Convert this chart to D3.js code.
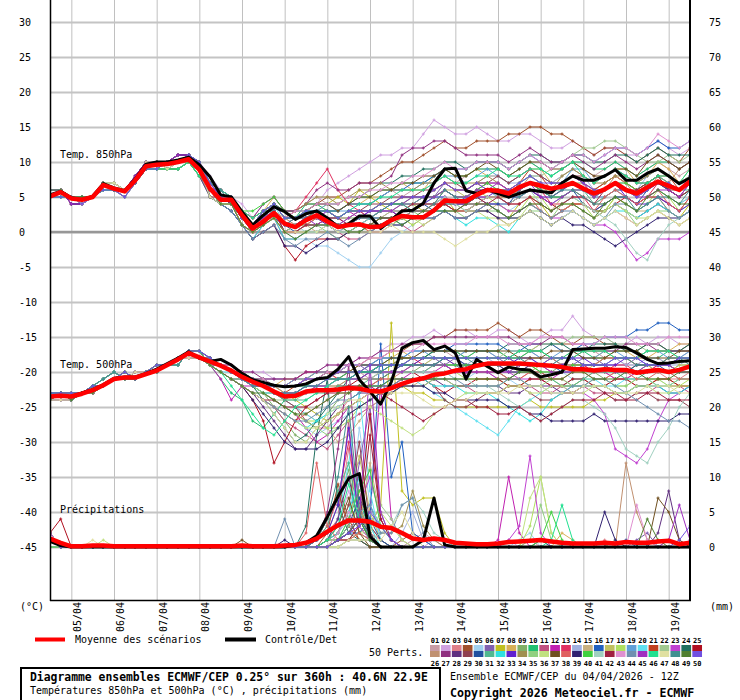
<!DOCTYPE html>
<html><head><meta charset="utf-8">
<script src="https://cdn.jsdelivr.net/npm/d3@7"></script>
<style>body{margin:0;background:#fff}svg{display:block}</style>
</head><body>
<svg id="chart" width="740" height="700"></svg>
<script>
// ---------- DATA ----------
const dayLabels = ["05/04","06/04","07/04","08/04","09/04","10/04","11/04","12/04","13/04","14/04","15/04","16/04","17/04","18/04","19/04"];
const tempTicks = [-45,-40,-35,-30,-25,-20,-15,-10,-5,0,5,10,15,20,25,30];
const precipTicks = [0,5,10,15,20,25,30,35,40,45,50,55,60,65,70,75];
const memberLabels = ["01","02","03","04","05","06","07","08","09","10","11","12","13","14","15","16","17","18","19","20","21","22","23","24","25","26","27","28","29","30","31","32","33","34","35","36","37","38","39","40","41","42","43","44","45","46","47","48","49","50"];
const memberColors = ["#c89ca6","#d0a0e0","#e07f88","#a0502c","#a0d0f0","#8060b0","#c0c020","#d8b058","#80b068","#20c070","#c05080","#c020b0","#e03060","#a0b0e0","#c8b080","#2060c0","#c0c060","#b0e060","#60a0d8","#60e0f0","#c04020","#a0c890","#c040d0","#207060","#b01020","#c09070","#903080","#603080","#904050","#2050a0","#50b890","#30e0e0","#6020d0","#a09050","#90d080","#c0e080","#705020","#e06060","#302070","#40d040","#a0d0c0","#a02040","#e090d0","#7090b0","#a030c0","#20e090","#e0e0a0","#409090","#508030","#7050e0"];

// 6-hourly, 04/04 12Z .. 19/04 12Z (61 steps)
const mean850 = [5.1,5.7,4.8,4.6,5.0,6.7,6.2,5.8,7.4,9.4,9.6,9.7,10.0,10.4,8.9,6.2,4.6,4.6,2.4,0.5,1.5,2.7,1.2,0.7,1.7,2.4,1.5,0.7,1.0,1.1,0.7,0.8,1.7,2.3,2.1,2.1,3.1,4.5,4.4,4.4,5.3,6.0,5.9,5.5,6.4,7.0,6.6,6.2,6.5,7.0,6.2,5.5,6.1,7.0,6.0,5.5,6.4,7.2,6.6,6.0,7.2];
const ctrl850 = [5.3,5.8,4.9,4.6,5.1,6.9,6.3,5.9,7.6,9.7,10.0,10.0,10.3,10.7,9.6,7.9,5.3,5.0,2.9,1.0,2.4,3.6,2.9,1.8,2.6,3.0,2.0,0.7,1.2,2.3,2.3,0.5,1.7,3.0,3.1,4.1,7.0,9.0,9.1,5.9,5.5,6.1,5.5,5.0,5.5,6.0,5.8,5.6,7.0,8.0,7.4,7.4,8.0,8.9,7.4,7.4,8.4,9.0,8.0,6.9,7.7];
const mean500 = [-23.5,-23.4,-23.5,-23.1,-22.6,-21.9,-21.0,-20.8,-20.8,-20.3,-19.8,-19.0,-18.2,-17.3,-17.9,-18.5,-19.1,-19.8,-20.7,-21.4,-22.0,-22.8,-23.5,-23.4,-22.8,-22.6,-22.6,-22.5,-22.3,-22.4,-22.7,-22.8,-22.3,-21.7,-21.2,-20.9,-20.4,-20.2,-19.8,-19.6,-19.1,-18.8,-18.8,-18.8,-18.8,-18.9,-19.0,-19.1,-19.3,-19.6,-19.6,-19.8,-19.6,-19.7,-19.7,-20.1,-19.9,-19.7,-20.0,-19.7,-19.2];
const ctrl500 = [-23.5,-23.4,-23.5,-23.0,-22.5,-21.8,-20.9,-20.7,-20.7,-20.2,-19.6,-18.8,-18.0,-17.1,-18.0,-18.5,-18.2,-19.0,-20.2,-21.1,-21.5,-21.9,-22.1,-22.0,-21.7,-21.0,-20.8,-19.6,-17.8,-21.1,-22.8,-24.6,-21.4,-16.6,-15.8,-15.5,-16.8,-16.3,-17.3,-21.0,-18.2,-19.2,-20.1,-19.3,-19.6,-19.7,-20.7,-20.4,-20.0,-16.8,-16.7,-16.6,-16.6,-16.4,-16.5,-17.3,-18.2,-18.8,-18.7,-18.5,-18.4];
const meanPrecip = [1.2,0.6,0.1,0.1,0.2,0.2,0.1,0.1,0.1,0.1,0.1,0.1,0.1,0.1,0.1,0.1,0.1,0.1,0.2,0.1,0.1,0.1,0.2,0.3,0.6,1.2,2.2,3.1,3.8,3.8,3.6,2.9,2.7,2.0,1.2,1.0,1.2,1.0,0.6,0.5,0.4,0.4,0.5,0.7,0.8,0.9,1.0,0.8,0.6,0.5,0.5,0.5,0.6,0.5,0.7,0.6,0.6,0.8,0.9,0.4,0.6];
const ctrlPrecip = [0.8,0.2,0,0,0,0,0,0,0,0,0,0,0,0,0,0,0,0,0,0,0,0,0,0.3,0.6,1.6,4.3,7.2,9.8,10.5,1.5,0,0,0,0,1.0,7.0,0.3,0,0,0,0,0,0,0,0,0,0,0,0,0,0,0,0,0,0,0,0,0,0,0];

const pert850 = [
[5,6,5,5,5,7,6,6,7,9,10,10,10,10,9,7,5,4,3,1,3,4,2,3,4,5,4,3,4,4,4,5,6,5,6,6,7,8,7,8,9,9,9,8,9,10,9,8,9,10,9,8,9,10,9,8,9,10,9,8,9],
[5,5,5,4,5,6,6,5,7,9,9,10,10,11,10,8,6,5,4,2,4,5,3,2,3,4,6,7,8,9,10,11,11,12,12,14,16,15,14,14,15,14,13,13,14,14,13,12,12,13,12,11,12,12,11,11,12,13,12,11,12],
[5,6,4,4,5,7,6,6,8,10,10,10,11,11,9,6,4,4,1,0,1,3,0,0,1,1,1,0,0,1,1,2,3,2,3,3,4,5,4,4,5,5,5,4,5,6,5,4,5,6,5,4,5,6,5,4,5,6,5,4,5],
[6,6,5,5,5,7,6,6,7,9,10,10,10,11,10,7,6,5,3,2,3,4,3,3,4,4,5,5,6,7,7,8,9,10,10,11,12,13,12,12,13,13,13,14,14,15,15,14,14,13,12,11,12,12,11,10,11,12,11,10,12],
[5,5,5,5,5,6,6,6,7,9,9,9,9,10,8,5,4,4,1,0,2,2,0,-1,-1,-2,-2,-3,-4,-5,-5,-3,-1,0,1,2,3,4,3,3,4,4,4,3,4,5,4,3,4,5,4,3,4,5,4,3,4,5,4,3,4],
[5,6,5,4,5,7,7,6,7,10,10,9,10,10,9,6,5,5,2,1,2,3,1,2,3,2,3,2,2,3,2,3,4,4,4,5,5,7,6,6,7,7,7,6,7,8,7,6,7,8,7,6,7,8,7,6,7,8,7,6,7],
[5,6,5,5,5,7,6,6,7,9,10,10,10,10,9,5,4,4,2,0,1,2,0,1,2,3,4,5,4,6,5,4,3,3,4,3,4,5,3,3,4,4,3,2,4,5,4,2,3,4,4,3,3,5,4,3,4,5,3,2,4],
[5,5,5,4,5,6,6,5,7,9,9,10,10,11,10,7,6,5,3,2,3,5,3,2,3,4,3,3,4,4,5,5,6,7,6,6,8,9,8,8,9,8,8,7,8,9,9,7,8,9,8,7,8,9,9,7,8,10,9,7,9],
[5,6,4,4,5,7,6,6,8,10,10,10,11,11,9,6,5,4,2,1,2,3,1,1,1,2,2,1,2,2,2,3,3,4,3,4,4,6,5,5,6,7,6,5,6,7,6,5,6,7,7,5,6,7,6,5,6,7,6,5,7],
[5,5,5,5,5,6,6,6,7,9,9,9,9,10,8,6,5,5,2,1,3,4,2,2,4,4,3,3,4,5,5,6,6,7,7,7,8,9,8,8,9,9,9,8,9,10,9,8,9,10,10,9,9,10,9,8,9,10,10,9,10],
[5,6,5,4,5,7,7,6,7,10,10,9,10,10,9,5,4,3,1,-1,1,2,-1,-1,0,0,1,0,-1,-1,0,0,1,1,0,1,2,3,2,2,3,3,2,1,2,3,2,1,2,3,2,1,2,3,2,1,2,3,2,1,2],
[6,6,5,5,5,7,6,6,7,9,10,10,10,11,10,6,5,4,2,0,2,3,1,1,2,3,2,2,3,2,3,3,4,4,4,5,5,6,5,5,6,7,7,6,6,7,7,6,7,8,7,5,5,6,6,5,6,7,6,5,7],
[5,6,5,5,5,7,6,6,7,9,10,10,10,10,9,7,5,4,2,1,3,4,2,3,5,7,9,6,4,3,2,3,3,2,3,4,4,5,4,4,5,6,5,5,6,7,6,4,4,5,5,3,4,5,5,4,5,7,6,5,6],
[5,5,5,4,5,6,6,5,7,9,9,10,10,11,10,6,5,4,2,1,2,4,2,1,2,2,3,2,2,3,3,4,4,5,5,5,6,7,6,6,7,8,8,7,7,8,8,7,8,9,8,6,6,7,7,6,8,9,8,7,8],
[5,6,4,4,5,7,6,6,8,10,10,10,11,11,9,5,4,4,2,0,1,2,0,1,1,0,0,-1,0,1,1,2,2,2,1,2,3,4,3,3,3,3,4,3,3,4,4,3,5,6,5,4,4,5,4,3,3,4,3,2,3],
[5,5,5,5,5,6,6,6,7,9,9,9,9,10,8,6,5,5,3,1,3,4,2,2,3,3,3,3,4,4,4,5,6,6,7,7,8,9,9,9,10,10,10,9,10,11,10,9,10,11,11,10,11,12,12,11,12,13,12,12,13],
[5,6,5,4,5,7,7,6,7,10,10,9,10,10,9,7,5,5,2,1,2,3,1,2,2,3,3,2,2,3,3,3,3,3,4,4,5,6,6,5,6,5,5,5,6,7,6,6,7,7,6,6,7,8,7,6,6,7,7,6,7],
[6,6,5,5,5,7,6,6,7,9,10,10,10,11,10,5,4,4,1,0,2,3,0,0,1,2,1,0,1,1,0,1,2,2,1,2,3,4,4,3,4,5,4,3,3,5,5,3,4,4,4,2,3,5,4,3,4,6,5,3,4],
[5,6,5,5,5,7,6,6,7,9,10,10,10,10,9,6,5,4,2,1,2,4,2,2,3,3,4,3,3,4,4,5,6,6,6,7,7,8,8,7,8,9,8,7,8,9,8,7,7,9,9,7,8,9,8,7,8,9,8,7,8],
[5,5,5,4,5,6,6,5,7,9,9,10,10,11,10,6,5,5,2,1,3,4,1,1,2,2,2,1,1,2,2,3,3,3,4,4,5,5,4,5,5,6,5,4,5,6,5,4,5,6,6,5,5,6,5,4,5,6,5,4,5],
[5,6,4,4,5,7,6,6,8,10,10,10,11,11,9,7,5,4,2,1,2,3,1,1,2,3,3,2,3,3,3,4,4,5,5,5,6,7,6,6,7,6,6,6,7,9,8,6,7,8,7,6,7,8,7,6,7,8,8,6,7],
[5,5,5,5,5,6,6,6,7,9,9,9,9,10,8,5,4,4,1,0,1,2,0,0,1,1,1,1,1,1,2,2,3,3,3,4,4,5,4,5,5,6,6,5,7,8,8,9,10,11,12,12,13,13,12,11,10,10,11,10,11],
[5,6,5,4,5,7,7,6,7,10,10,9,10,10,9,6,5,4,2,0,2,3,1,1,2,2,3,2,1,2,2,3,3,3,3,4,4,5,4,4,4,4,4,3,3,4,3,2,2,3,2,1,1,0,-2,-4,-3,-1,-1,-1,0],
[6,6,5,5,5,7,6,6,7,9,10,10,10,11,10,7,6,5,3,2,3,4,3,3,3,4,4,4,5,5,6,7,7,8,8,9,9,10,10,9,10,10,10,9,10,11,11,10,10,11,11,10,10,11,11,10,11,12,11,11,11],
[5,6,5,5,5,7,6,6,7,9,10,10,10,10,9,6,4,4,1,-1,0,1,-2,-4,-2,-1,-1,-1,0,0,1,1,2,2,3,3,3,4,3,3,4,5,5,4,5,6,5,4,3,4,4,3,3,4,5,4,5,5,4,3,5],
[5,5,5,4,5,6,6,5,7,9,9,10,10,11,10,5,4,4,2,1,3,3,2,1,1,2,2,1,1,2,2,3,3,3,4,4,4,6,5,5,6,6,6,5,6,8,7,5,6,7,6,5,6,8,7,5,6,8,7,9,10],
[5,6,4,4,5,7,6,6,8,10,10,10,11,11,9,7,6,5,3,2,4,5,3,3,4,6,7,6,6,7,7,7,8,11,12,12,13,13,12,11,11,11,11,10,11,12,11,10,10,11,10,9,10,11,10,9,10,11,10,9,10],
[5,5,5,5,5,6,6,6,7,9,9,9,9,10,8,5,4,4,1,0,1,2,0,0,0,1,1,0,0,0,1,1,1,2,2,2,3,3,3,3,3,4,3,2,3,4,3,2,3,4,3,2,3,4,3,2,3,4,3,2,3],
[5,6,5,4,5,7,7,6,7,10,10,9,10,10,9,7,6,5,3,1,3,4,2,2,3,3,3,2,3,3,4,4,5,5,5,6,6,7,7,6,7,7,8,7,8,9,8,7,7,8,8,7,8,9,8,7,7,7,6,6,7],
[6,6,5,5,5,7,6,6,7,9,10,10,10,11,10,6,4,3,1,0,2,2,1,0,1,1,2,1,0,1,2,2,2,3,3,4,3,4,4,4,5,4,4,4,6,7,6,5,5,6,4,3,4,5,5,4,6,7,6,5,6],
[5,6,5,5,5,7,6,6,7,9,10,10,10,10,9,6,5,5,2,1,3,3,1,1,2,2,2,2,3,3,3,3,4,4,4,5,5,6,5,5,6,6,6,5,7,8,7,6,6,7,6,4,5,6,6,5,7,8,7,6,6],
[5,5,5,4,5,6,6,5,7,9,9,10,10,11,10,5,4,3,1,-1,1,2,-1,-1,0,0,1,0,0,0,1,1,2,1,2,2,3,3,2,1,2,2,1,0,2,3,2,1,2,3,2,1,2,3,3,2,3,4,3,2,3],
[5,6,4,4,5,7,6,6,8,10,10,10,11,11,9,7,5,4,2,1,2,3,0,1,2,2,1,0,1,2,3,3,3,2,3,4,5,5,4,5,5,5,6,5,5,6,5,5,6,7,6,5,6,7,5,4,4,5,4,3,4],
[5,5,5,5,5,6,6,6,7,9,9,9,9,10,8,6,5,5,3,2,3,4,2,3,4,5,5,4,5,6,6,7,6,6,6,7,7,8,7,7,7,8,7,6,6,7,7,6,8,9,8,7,7,8,8,7,8,9,8,7,8],
[5,6,5,4,5,7,7,6,7,10,10,9,10,10,9,5,4,4,1,0,1,2,0,1,1,1,0,-1,0,1,1,1,1,2,3,2,3,4,3,2,3,3,3,2,2,3,3,2,4,5,4,3,3,4,3,1,2,3,3,2,3],
[6,6,5,5,5,7,6,6,7,9,10,10,10,11,10,6,4,4,1,0,2,2,0,0,0,1,2,1,0,0,0,1,1,2,2,1,2,3,3,3,3,2,2,1,2,4,3,2,3,4,3,2,3,4,3,2,2,3,2,1,2],
[5,6,5,5,5,7,6,6,7,9,10,10,10,10,9,7,6,5,3,2,3,4,2,2,3,4,4,3,4,5,5,6,6,7,7,8,8,9,8,8,9,10,9,8,9,10,10,9,9,10,9,8,8,9,9,8,10,11,10,9,10],
[5,5,5,4,5,6,6,5,7,9,9,10,10,11,10,6,4,4,1,0,1,2,0,0,1,2,2,1,1,1,0,1,2,3,3,3,4,4,3,3,4,5,5,4,4,5,3,2,3,4,4,3,5,6,5,4,5,6,4,3,5],
[5,6,4,4,5,7,6,6,8,10,10,10,11,11,9,5,4,3,1,-1,0,1,-2,-2,-3,-2,-1,-1,0,0,0,1,1,1,2,2,2,3,2,2,3,3,2,2,2,3,2,1,2,1,1,0,-1,-2,-1,0,1,2,2,2,3],
[5,5,5,5,5,6,6,6,7,9,9,9,9,10,8,7,6,5,3,3,4,5,3,2,3,3,3,2,3,3,3,4,4,4,5,5,5,6,5,5,6,7,6,6,6,7,6,5,5,6,6,5,6,7,7,6,7,8,6,5,6],
[5,6,5,4,5,7,7,6,7,10,10,9,10,10,9,6,4,4,3,1,2,3,1,1,0,1,1,0,1,1,2,3,3,3,4,4,4,5,4,3,4,5,5,4,5,6,4,3,4,5,4,3,2,1,-1,-3,-4,-1,1,2,3],
[6,6,5,5,5,7,6,6,7,9,10,10,10,11,10,5,5,4,2,0,1,3,0,0,1,1,2,2,1,1,1,2,2,3,4,4,4,4,3,4,5,4,5,4,4,5,4,3,4,5,5,4,6,7,6,6,7,8,6,5,6],
[5,6,5,5,5,7,6,6,7,9,10,10,10,10,9,7,6,5,3,2,3,4,2,3,3,4,4,4,5,5,6,6,7,7,8,8,9,10,9,9,10,10,10,9,10,11,10,9,10,11,11,10,11,12,12,11,12,14,13,12,13],
[5,5,5,4,5,6,6,5,7,9,9,10,10,11,10,5,4,3,1,-1,0,1,-1,-2,-1,-1,0,-1,-2,-1,0,1,1,1,2,2,2,3,2,2,3,4,3,2,3,4,3,2,3,3,2,1,2,4,4,3,4,5,3,2,3],
[5,6,4,4,5,7,6,6,8,10,10,10,11,11,9,6,6,5,2,1,2,3,1,2,2,1,2,1,2,3,3,3,3,4,5,5,5,6,5,5,6,6,7,6,6,7,5,4,5,6,6,5,6,7,6,5,5,6,6,5,7],
[5,5,5,5,5,6,6,6,7,9,9,9,9,10,8,7,6,5,3,2,3,4,2,2,3,3,3,2,3,4,4,5,5,6,6,6,7,8,7,7,8,8,9,8,8,9,9,8,9,10,8,7,8,9,8,7,7,8,8,7,9],
[5,6,5,4,5,7,7,6,7,10,10,9,10,10,9,5,4,4,1,0,1,2,0,0,0,0,1,0,0,0,0,0,1,0,0,0,0,-1,-2,-1,0,0,1,1,2,3,2,1,2,3,2,1,2,3,2,1,2,3,2,1,2],
[6,6,5,5,5,7,6,6,7,9,10,10,10,11,10,7,6,4,2,1,3,3,1,2,2,3,2,1,1,2,2,3,4,4,3,3,4,6,5,4,5,6,6,5,5,6,6,5,6,6,5,4,4,5,5,3,4,5,5,4,6],
[5,6,5,5,5,7,6,6,7,9,10,10,10,10,9,6,4,4,1,0,1,2,0,-1,0,1,1,1,0,0,1,2,2,1,2,3,3,3,3,4,4,4,3,2,3,4,4,3,4,4,3,2,4,5,4,3,5,6,5,4,4],
[5,5,5,4,5,6,6,5,7,9,9,10,10,11,10,7,5,5,2,1,3,4,2,2,3,3,3,2,3,3,3,4,4,5,5,5,6,7,6,6,7,6,6,6,7,8,7,7,7,8,7,6,6,7,6,5,6,7,7,6,8]
];

const pert500 = [
[-24,-23,-24,-23,-23,-22,-21,-21,-21,-20,-20,-19,-18,-17,-18,-18,-19,-20,-20,-21,-21,-22,-22,-22,-21,-21,-20,-20,-20,-20,-21,-20,-19,-18,-18,-17,-17,-17,-18,-17,-17,-17,-18,-18,-17,-17,-18,-18,-19,-18,-17,-17,-18,-18,-19,-19,-18,-18,-19,-18,-17],
[-23,-23,-23,-23,-22,-22,-21,-20,-21,-20,-19,-19,-18,-17,-17,-18,-19,-19,-20,-20,-20,-21,-21,-21,-20,-20,-19,-19,-19,-18,-18,-17,-16,-16,-15,-15,-14,-15,-14,-14,-15,-15,-14,-14,-15,-16,-15,-14,-14,-12,-14,-15,-15,-16,-16,-15,-16,-15,-15,-16,-16],
[-24,-24,-24,-23,-23,-22,-21,-21,-20,-20,-20,-19,-18,-18,-18,-19,-19,-20,-21,-22,-23,-24,-25,-26,-27,-28,-28,-26,-24,-23,-22,-21,-21,-20,-20,-20,-19,-19,-20,-20,-20,-20,-20,-21,-21,-20,-20,-21,-21,-22,-21,-20,-20,-21,-21,-20,-20,-20,-21,-21,-20],
[-23,-23,-24,-23,-22,-21,-20,-21,-21,-20,-20,-19,-19,-17,-18,-18,-19,-19,-20,-21,-21,-22,-22,-21,-21,-20,-20,-20,-19,-19,-18,-18,-17,-17,-16,-16,-15,-15,-14,-14,-14,-14,-13,-14,-15,-14,-14,-15,-16,-16,-15,-15,-16,-16,-17,-17,-16,-16,-17,-17,-16],
[-24,-23,-24,-23,-23,-22,-21,-21,-21,-20,-20,-19,-18,-17,-18,-19,-20,-21,-22,-23,-24,-25,-26,-27,-28,-29,-28,-27,-26,-25,-24,-23,-22,-22,-21,-21,-21,-20,-21,-21,-20,-20,-21,-21,-22,-21,-21,-20,-20,-21,-21,-22,-22,-21,-20,-20,-21,-21,-22,-21,-21],
[-23,-23,-23,-23,-22,-22,-21,-20,-21,-20,-19,-19,-18,-17,-17,-18,-19,-20,-20,-21,-21,-21,-21,-21,-20,-20,-20,-20,-19,-19,-20,-20,-19,-19,-18,-18,-18,-19,-18,-18,-18,-18,-18,-19,-19,-18,-18,-18,-19,-19,-18,-18,-19,-19,-19,-18,-18,-19,-19,-18,-18],
[-24,-24,-24,-23,-23,-22,-21,-21,-20,-20,-20,-19,-18,-18,-18,-19,-19,-20,-21,-21,-22,-23,-23,-24,-25,-26,-27,-26,-25,-24,-23,-23,-22,-22,-23,-23,-24,-24,-25,-25,-25,-25,-25,-25,-25,-24,-25,-25,-25,-25,-25,-24,-24,-23,-23,-22,-22,-21,-21,-22,-22],
[-23,-23,-24,-23,-22,-21,-20,-21,-21,-20,-20,-19,-19,-17,-18,-18,-19,-20,-21,-21,-22,-22,-21,-21,-21,-20,-20,-21,-20,-19,-19,-18,-18,-17,-18,-18,-17,-17,-17,-18,-17,-17,-17,-18,-18,-17,-16,-16,-17,-17,-18,-18,-17,-17,-17,-18,-18,-17,-17,-16,-16],
[-24,-23,-24,-23,-23,-22,-21,-21,-21,-20,-20,-19,-18,-17,-18,-19,-19,-20,-21,-22,-23,-25,-27,-29,-30,-28,-26,-24,-23,-22,-22,-21,-20,-20,-20,-19,-19,-19,-20,-19,-19,-19,-20,-20,-19,-19,-20,-20,-19,-19,-20,-20,-21,-20,-20,-19,-19,-20,-20,-19,-19],
[-23,-23,-23,-23,-22,-22,-21,-20,-21,-20,-19,-19,-18,-17,-17,-19,-21,-23,-24,-27,-28,-26,-24,-23,-22,-21,-21,-20,-20,-20,-19,-19,-18,-18,-18,-18,-17,-17,-17,-18,-17,-17,-17,-18,-18,-17,-17,-18,-18,-17,-17,-18,-18,-17,-17,-17,-18,-18,-17,-17,-17],
[-24,-24,-24,-23,-23,-22,-21,-21,-20,-20,-20,-19,-18,-18,-18,-19,-20,-21,-22,-23,-24,-25,-27,-28,-29,-30,-31,-29,-27,-26,-25,-24,-23,-22,-22,-22,-21,-21,-22,-22,-23,-23,-23,-22,-22,-22,-23,-23,-22,-22,-22,-23,-23,-24,-24,-23,-23,-22,-22,-22,-23],
[-23,-23,-24,-23,-22,-21,-20,-21,-21,-20,-20,-19,-19,-17,-18,-19,-21,-24,-22,-22,-23,-24,-25,-26,-28,-30,-29,-27,-25,-24,-23,-22,-21,-21,-20,-20,-20,-19,-19,-20,-20,-20,-21,-21,-20,-20,-21,-21,-20,-19,-19,-20,-20,-21,-21,-20,-20,-19,-19,-20,-20],
[-24,-23,-24,-23,-23,-22,-21,-21,-21,-20,-20,-19,-18,-17,-18,-18,-19,-20,-21,-21,-22,-22,-22,-21,-20,-20,-20,-21,-21,-20,-20,-19,-19,-19,-18,-19,-19,-18,-18,-19,-19,-19,-19,-20,-20,-19,-19,-20,-20,-19,-19,-20,-20,-19,-19,-20,-20,-19,-19,-20,-20],
[-23,-23,-23,-23,-22,-22,-21,-20,-21,-20,-19,-19,-18,-17,-17,-18,-19,-20,-20,-21,-22,-22,-23,-23,-22,-22,-21,-21,-21,-21,-20,-20,-20,-19,-19,-19,-18,-18,-18,-19,-18,-18,-19,-19,-18,-18,-19,-19,-18,-18,-19,-19,-18,-18,-19,-19,-18,-18,-19,-19,-18],
[-24,-24,-24,-23,-23,-22,-21,-21,-20,-20,-20,-19,-18,-18,-18,-19,-19,-20,-21,-22,-22,-23,-24,-25,-26,-27,-28,-30,-29,-27,-25,-24,-23,-22,-22,-21,-21,-21,-21,-21,-21,-21,-21,-22,-22,-21,-21,-22,-22,-21,-21,-22,-22,-21,-21,-22,-22,-21,-21,-22,-22],
[-23,-23,-24,-23,-22,-21,-20,-21,-21,-20,-20,-19,-19,-17,-18,-18,-19,-20,-20,-21,-21,-22,-22,-22,-21,-21,-20,-20,-19,-19,-19,-18,-18,-18,-17,-17,-17,-17,-16,-16,-16,-16,-16,-17,-17,-16,-16,-16,-17,-17,-16,-16,-15,-15,-15,-14,-14,-13,-13,-14,-14],
[-24,-23,-24,-23,-23,-22,-21,-21,-21,-20,-20,-19,-18,-17,-18,-19,-19,-20,-21,-22,-22,-22,-23,-23,-23,-22,-22,-21,-21,-21,-20,-20,-20,-19,-19,-19,-18,-18,-19,-19,-19,-19,-19,-19,-20,-20,-19,-19,-19,-20,-20,-19,-19,-20,-20,-19,-19,-20,-20,-19,-19],
[-23,-23,-23,-23,-22,-22,-21,-20,-21,-20,-19,-19,-18,-17,-17,-19,-19,-20,-21,-22,-23,-24,-25,-26,-27,-27,-28,-28,-27,-25,-24,-23,-22,-22,-21,-21,-21,-20,-20,-21,-21,-21,-21,-22,-22,-21,-21,-21,-22,-22,-21,-21,-21,-22,-22,-21,-21,-21,-22,-22,-21],
[-24,-24,-24,-23,-23,-22,-21,-21,-20,-20,-20,-19,-18,-18,-18,-18,-19,-20,-21,-21,-21,-22,-22,-21,-21,-20,-20,-20,-19,-19,-19,-18,-18,-18,-17,-17,-18,-18,-18,-17,-17,-17,-18,-18,-17,-17,-18,-18,-17,-17,-18,-18,-17,-17,-18,-18,-17,-17,-18,-18,-17],
[-23,-23,-24,-23,-22,-21,-20,-21,-21,-20,-20,-19,-19,-17,-18,-19,-20,-20,-21,-22,-23,-23,-24,-25,-26,-27,-26,-25,-24,-23,-22,-22,-21,-21,-21,-22,-23,-24,-25,-26,-27,-28,-29,-27,-25,-24,-23,-22,-22,-21,-21,-21,-22,-22,-21,-21,-21,-22,-22,-21,-21],
[-24,-23,-24,-23,-23,-22,-21,-21,-21,-20,-20,-19,-18,-17,-18,-18,-19,-20,-21,-22,-22,-23,-23,-22,-21,-21,-21,-20,-20,-20,-20,-19,-19,-19,-19,-18,-18,-18,-18,-18,-18,-18,-18,-18,-19,-19,-19,-18,-18,-18,-19,-19,-18,-18,-18,-19,-19,-19,-18,-18,-18],
[-23,-23,-23,-23,-22,-22,-21,-20,-21,-20,-19,-19,-18,-17,-17,-19,-19,-20,-21,-22,-23,-24,-24,-24,-23,-23,-22,-22,-21,-21,-21,-20,-20,-20,-19,-19,-19,-18,-18,-18,-18,-18,-18,-17,-17,-17,-16,-16,-16,-15,-15,-15,-15,-16,-16,-16,-17,-17,-17,-17,-17],
[-24,-24,-24,-23,-23,-22,-21,-21,-20,-20,-20,-19,-18,-18,-18,-19,-19,-20,-21,-22,-22,-23,-23,-23,-22,-22,-21,-21,-21,-20,-20,-20,-20,-19,-19,-19,-19,-19,-20,-20,-20,-20,-20,-20,-21,-21,-21,-22,-22,-23,-23,-24,-26,-31,-32,-33,-31,-27,-24,-23,-22],
[-23,-23,-24,-23,-22,-21,-20,-21,-21,-20,-20,-19,-19,-17,-18,-18,-19,-20,-21,-22,-24,-26,-28,-30,-29,-27,-25,-23,-21,-20,-20,-19,-19,-18,-18,-18,-17,-17,-17,-17,-17,-17,-17,-16,-16,-17,-17,-16,-16,-17,-17,-16,-16,-16,-17,-17,-16,-16,-17,-17,-16],
[-24,-23,-24,-23,-23,-22,-21,-21,-21,-20,-20,-19,-18,-17,-18,-19,-20,-21,-22,-24,-27,-33,-30,-27,-25,-24,-23,-22,-22,-21,-21,-21,-20,-20,-20,-21,-22,-23,-22,-22,-21,-21,-21,-22,-22,-21,-21,-22,-22,-21,-21,-22,-22,-21,-21,-22,-22,-21,-21,-22,-22],
[-23,-23,-23,-23,-22,-22,-21,-20,-21,-20,-19,-19,-18,-17,-17,-18,-19,-20,-21,-21,-22,-22,-23,-23,-23,-22,-22,-22,-21,-21,-21,-20,-20,-20,-19,-19,-19,-19,-19,-19,-19,-19,-19,-19,-19,-18,-18,-18,-19,-19,-19,-19,-18,-18,-18,-19,-19,-19,-18,-18,-18],
[-24,-24,-24,-23,-23,-22,-21,-21,-20,-20,-20,-19,-18,-18,-18,-18,-19,-19,-20,-20,-21,-21,-21,-21,-20,-20,-19,-19,-19,-18,-18,-17,-17,-16,-16,-16,-15,-15,-15,-15,-15,-15,-15,-15,-16,-16,-16,-15,-15,-16,-16,-17,-17,-17,-16,-16,-16,-17,-17,-17,-17],
[-23,-23,-24,-23,-22,-21,-20,-21,-21,-20,-20,-19,-19,-17,-18,-19,-20,-21,-22,-23,-25,-27,-29,-31,-31,-29,-27,-25,-24,-23,-23,-22,-22,-21,-21,-21,-21,-22,-22,-22,-22,-22,-22,-23,-23,-22,-22,-22,-23,-23,-22,-22,-22,-23,-23,-22,-22,-22,-23,-23,-22],
[-24,-23,-24,-23,-23,-22,-21,-21,-21,-20,-20,-19,-18,-17,-18,-19,-20,-21,-21,-22,-22,-23,-24,-25,-27,-28,-27,-26,-25,-24,-23,-22,-22,-21,-21,-21,-22,-24,-25,-25,-24,-23,-23,-22,-22,-23,-24,-24,-23,-23,-22,-22,-23,-24,-24,-23,-23,-24,-24,-24,-25],
[-23,-23,-23,-23,-22,-22,-21,-20,-21,-20,-19,-19,-18,-17,-17,-18,-19,-20,-21,-22,-22,-23,-23,-23,-22,-22,-22,-21,-21,-21,-20,-20,-20,-19,-19,-19,-19,-18,-18,-19,-19,-19,-19,-20,-20,-19,-19,-19,-20,-20,-19,-19,-19,-20,-20,-19,-19,-19,-20,-20,-19],
[-24,-24,-24,-23,-23,-22,-21,-21,-20,-20,-20,-19,-18,-18,-18,-19,-20,-21,-21,-22,-23,-23,-24,-24,-24,-23,-23,-22,-22,-22,-21,-21,-20,-20,-20,-20,-19,-19,-19,-20,-20,-20,-20,-21,-20,-20,-20,-21,-22,-22,-21,-20,-20,-20,-21,-21,-20,-20,-20,-21,-21],
[-23,-23,-24,-23,-22,-21,-20,-21,-21,-20,-20,-19,-19,-17,-18,-19,-20,-21,-22,-23,-24,-25,-26,-27,-28,-27,-26,-25,-24,-23,-22,-22,-21,-21,-21,-21,-22,-22,-22,-23,-23,-23,-24,-25,-26,-27,-26,-24,-23,-22,-22,-22,-22,-23,-23,-22,-22,-22,-23,-23,-22],
[-24,-23,-24,-23,-23,-22,-21,-21,-21,-20,-20,-19,-18,-17,-18,-18,-19,-20,-21,-21,-22,-22,-22,-22,-22,-21,-21,-21,-20,-20,-20,-19,-19,-19,-19,-18,-18,-18,-19,-19,-19,-19,-19,-19,-18,-18,-19,-19,-19,-18,-18,-19,-19,-19,-18,-18,-19,-19,-19,-18,-18],
[-23,-23,-23,-23,-22,-22,-21,-20,-21,-20,-19,-19,-18,-17,-17,-19,-19,-20,-21,-21,-22,-22,-22,-22,-21,-21,-21,-20,-20,-20,-19,-19,-19,-18,-18,-18,-18,-18,-18,-18,-18,-18,-18,-18,-17,-17,-17,-18,-18,-18,-17,-17,-17,-18,-18,-18,-17,-17,-17,-18,-18],
[-24,-24,-24,-23,-23,-22,-21,-21,-20,-20,-20,-19,-18,-18,-18,-19,-19,-20,-21,-22,-23,-24,-25,-26,-27,-28,-29,-28,-26,-25,-24,-23,-23,-22,-22,-22,-21,-21,-22,-22,-22,-22,-22,-21,-21,-22,-22,-21,-21,-22,-22,-21,-21,-22,-22,-21,-21,-22,-22,-21,-21],
[-23,-23,-24,-23,-22,-21,-20,-21,-21,-20,-20,-19,-19,-17,-18,-19,-20,-21,-22,-23,-24,-25,-26,-27,-28,-28,-27,-26,-25,-24,-25,-26,-27,-28,-29,-28,-26,-25,-24,-23,-23,-23,-23,-22,-22,-23,-23,-22,-22,-23,-23,-22,-22,-23,-23,-22,-22,-23,-23,-22,-22],
[-24,-23,-24,-23,-23,-22,-21,-21,-21,-20,-20,-19,-18,-17,-18,-18,-19,-20,-20,-21,-21,-22,-22,-22,-21,-21,-20,-20,-20,-19,-19,-19,-18,-18,-18,-17,-17,-17,-17,-17,-17,-17,-17,-17,-18,-18,-18,-17,-17,-17,-18,-18,-18,-17,-17,-17,-18,-18,-18,-17,-17],
[-23,-23,-23,-23,-22,-22,-21,-20,-21,-20,-19,-19,-18,-17,-17,-19,-20,-21,-22,-23,-24,-25,-26,-27,-26,-25,-24,-23,-23,-22,-22,-21,-21,-21,-21,-21,-20,-20,-20,-20,-20,-20,-20,-21,-21,-20,-20,-21,-21,-20,-20,-21,-21,-20,-20,-21,-21,-20,-20,-21,-21],
[-24,-24,-24,-23,-23,-22,-21,-21,-20,-20,-20,-19,-18,-18,-18,-19,-20,-21,-22,-24,-26,-28,-30,-31,-31,-31,-30,-28,-26,-25,-24,-23,-23,-22,-22,-22,-23,-23,-24,-24,-24,-24,-24,-25,-25,-26,-26,-27,-27,-27,-27,-26,-27,-27,-27,-27,-27,-27,-27,-26,-26],
[-23,-23,-24,-23,-22,-21,-20,-21,-21,-20,-20,-19,-19,-17,-18,-18,-19,-20,-21,-21,-22,-22,-22,-22,-22,-21,-21,-21,-20,-20,-20,-20,-19,-19,-19,-19,-19,-19,-19,-19,-19,-19,-19,-19,-19,-19,-20,-20,-20,-19,-19,-19,-19,-20,-20,-20,-19,-19,-19,-20,-20],
[-24,-23,-24,-23,-23,-22,-21,-21,-21,-20,-20,-19,-18,-17,-18,-19,-19,-20,-21,-22,-22,-23,-23,-23,-23,-22,-22,-21,-21,-21,-21,-20,-20,-20,-20,-20,-20,-20,-21,-21,-22,-22,-23,-24,-25,-26,-27,-26,-25,-24,-24,-25,-26,-28,-31,-32,-33,-30,-28,-25,-23],
[-23,-23,-23,-23,-22,-22,-21,-20,-21,-20,-19,-19,-18,-17,-17,-19,-20,-21,-22,-23,-24,-24,-25,-25,-25,-24,-23,-23,-22,-22,-22,-23,-24,-25,-26,-27,-26,-25,-24,-24,-25,-25,-26,-26,-25,-26,-27,-26,-25,-24,-24,-24,-23,-23,-24,-24,-23,-23,-24,-24,-24],
[-24,-24,-24,-23,-23,-22,-21,-21,-20,-20,-20,-19,-18,-18,-18,-18,-19,-19,-20,-21,-21,-22,-22,-22,-21,-21,-20,-20,-19,-19,-18,-18,-17,-17,-17,-16,-16,-16,-16,-16,-15,-15,-15,-16,-16,-16,-15,-15,-15,-16,-16,-16,-15,-15,-15,-16,-16,-16,-15,-15,-15],
[-23,-23,-24,-23,-22,-21,-20,-21,-21,-20,-20,-19,-19,-17,-18,-19,-20,-21,-22,-23,-24,-25,-26,-27,-27,-26,-25,-24,-24,-23,-22,-22,-22,-21,-21,-21,-21,-21,-21,-22,-22,-22,-22,-21,-21,-22,-22,-23,-23,-22,-22,-21,-21,-22,-23,-24,-25,-26,-27,-27,-28],
[-24,-23,-24,-23,-23,-22,-21,-21,-21,-20,-20,-19,-18,-17,-18,-19,-19,-20,-21,-22,-22,-23,-23,-23,-23,-22,-22,-21,-21,-21,-20,-20,-20,-20,-19,-19,-19,-19,-20,-20,-20,-20,-20,-20,-19,-19,-19,-20,-20,-20,-19,-19,-19,-20,-20,-20,-19,-19,-19,-20,-20],
[-23,-23,-23,-23,-22,-22,-21,-20,-21,-20,-19,-19,-18,-17,-17,-19,-20,-22,-24,-26,-28,-29,-27,-25,-24,-23,-22,-21,-21,-20,-20,-19,-19,-19,-18,-18,-18,-18,-18,-18,-18,-18,-18,-18,-17,-17,-17,-18,-18,-18,-17,-17,-17,-18,-18,-18,-17,-17,-17,-18,-18],
[-24,-24,-24,-23,-23,-22,-21,-21,-20,-20,-20,-19,-18,-18,-18,-19,-20,-21,-22,-23,-24,-26,-28,-30,-30,-28,-26,-25,-24,-24,-23,-23,-23,-23,-23,-24,-25,-25,-24,-24,-23,-23,-23,-23,-22,-22,-22,-23,-23,-23,-22,-22,-22,-23,-23,-23,-22,-22,-22,-23,-23],
[-23,-23,-24,-23,-22,-21,-20,-21,-21,-20,-20,-19,-19,-17,-18,-18,-19,-20,-21,-22,-22,-23,-23,-23,-22,-22,-21,-21,-21,-20,-20,-20,-19,-19,-19,-19,-19,-18,-18,-18,-19,-19,-19,-18,-18,-19,-19,-19,-18,-18,-19,-19,-19,-18,-18,-19,-19,-19,-18,-18,-19],
[-24,-23,-24,-23,-23,-22,-21,-21,-21,-20,-20,-19,-18,-17,-18,-19,-20,-21,-22,-23,-23,-24,-25,-26,-26,-25,-24,-23,-23,-22,-22,-22,-21,-21,-21,-21,-21,-21,-21,-21,-21,-21,-21,-21,-20,-20,-21,-21,-21,-20,-20,-21,-21,-21,-20,-20,-21,-21,-21,-20,-20],
[-23,-23,-23,-23,-22,-22,-21,-20,-21,-20,-19,-19,-18,-17,-17,-18,-19,-20,-21,-21,-22,-22,-22,-22,-21,-21,-21,-20,-20,-20,-19,-19,-19,-19,-18,-18,-18,-18,-18,-18,-18,-18,-18,-18,-19,-19,-19,-18,-18,-18,-19,-19,-19,-18,-18,-18,-19,-19,-19,-18,-18]
];

const pertPrecip = [
[1,0,0,0,0,0,0,0,0,0,0,0,0,0,0,0,0,0,0,0,0,0,0,0,0,0,1,2,6,3,1,0,0,0,1,2,1,0,0,0,0,0,0,0,0,1,0,0,0,0,0,0,0,0,0,0,0,0,0,0,0],
[2,0,0,0,0,0,0,0,0,0,0,0,0,0,0,0,0,0,0,0,0,0,0,0,0,0,1,3,8,4,1,0,0,0,0,0,1,0,0,0,0,0,0,1,0,0,0,0,0,0,0,0,0,0,0,0,0,0,0,0,1],
[1,0,0,0,0,0,0,0,0,0,0,0,0,0,0,0,0,0,0,0,0,0,0,0,0,1,2,4,14,5,2,1,0,0,0,0,0,0,0,0,0,0,0,0,0,0,0,0,0,0,0,0,1,0,0,0,0,0,0,0,0],
[2,0,0,0,0,0,0,0,0,0,0,0,0,0,0,0,0,0,0,0,0,0,0,0,0,0,2,9,4,1,0,0,0,1,2,1,0,0,0,0,0,0,0,0,0,0,0,0,0,0,0,0,0,0,0,0,0,0,0,0,0],
[1,0,0,0,0,0,0,0,0,0,0,0,0,0,0,0,0,0,0,0,0,0,0,0,0,0,0,1,4,17,6,1,0,0,0,0,0,0,0,0,0,0,0,0,1,2,0,0,0,0,0,0,0,0,0,0,0,0,0,0,0],
[0,0,0,0,0,0,0,0,0,0,0,0,0,0,0,0,0,0,0,0,0,0,0,0,0,0,0,1,3,12,20,5,1,0,0,0,0,0,0,0,0,0,0,0,0,0,0,0,0,0,0,0,0,0,0,1,2,0,0,0,0],
[1,0,0,0,0,0,0,0,0,0,0,0,0,0,0,0,0,0,0,0,0,0,0,0,0,0,0,0,1,2,3,6,32,8,6,7,7,2,0,0,0,0,0,0,0,0,1,0,0,0,0,0,0,0,0,0,0,0,0,0,0],
[2,0,0,0,0,0,0,0,0,0,0,0,0,0,0,0,0,0,0,0,0,0,0,0,0,0,0,1,2,5,3,1,0,0,0,0,0,0,0,0,0,0,0,0,0,0,0,0,2,1,0,0,0,0,0,0,0,0,0,0,0],
[1,0,0,0,0,0,0,0,0,0,0,0,0,0,0,0,0,0,0,0,0,0,0,0,0,1,2,6,11,2,1,0,0,0,0,0,0,0,0,0,0,0,0,0,0,0,0,0,0,0,0,0,0,1,0,0,0,0,0,0,0],
[1,0,0,0,0,0,0,0,0,0,0,0,0,0,0,0,0,0,0,0,0,0,0,0,0,0,1,1,3,7,2,0,0,0,0,0,0,0,0,0,0,0,0,0,0,0,0,0,0,0,0,0,0,0,0,0,0,0,0,0,0],
[2,0,0,0,0,0,0,0,0,0,0,0,0,0,0,0,0,0,0,0,0,0,0,0,0,0,1,4,18,3,1,0,0,0,0,0,0,0,0,0,0,0,0,0,0,0,0,0,0,0,0,0,0,0,0,0,0,0,0,0,0],
[1,0,0,0,0,0,0,0,0,0,0,0,0,0,0,0,0,0,0,0,0,0,0,0,0,0,0,1,2,3,5,23,4,1,0,0,0,0,0,0,0,0,1,10,2,0,0,0,0,0,0,0,0,0,0,0,0,0,0,0,0],
[1,0,0,0,0,0,0,0,0,0,0,0,0,0,0,0,0,0,0,0,0,0,0,0,0,1,3,7,15,4,1,0,0,0,0,0,0,0,0,0,0,0,0,0,0,0,0,0,0,0,0,0,0,0,0,0,0,0,0,0,0],
[0,0,0,0,0,0,0,0,0,0,0,0,0,0,0,0,0,0,0,0,0,0,0,0,0,0,1,2,4,9,3,1,0,2,5,1,0,0,0,0,0,0,0,0,0,0,0,0,0,0,0,0,0,0,0,0,0,0,0,0,0],
[1,0,0,0,0,0,0,0,0,0,0,0,0,0,0,0,0,0,0,0,0,0,0,0,0,0,0,1,1,3,12,4,1,0,0,0,0,0,0,0,0,0,0,0,0,0,0,0,0,0,0,0,0,0,0,0,0,0,0,0,0],
[1,0,0,0,0,0,0,0,0,0,0,0,0,0,0,0,0,0,0,0,0,0,0,0,0,0,0,1,2,2,4,29,10,15,2,1,0,0,0,0,0,0,0,0,0,0,0,0,0,0,0,0,0,0,1,0,0,0,0,0,0],
[2,0,0,0,0,0,0,0,0,0,0,0,0,0,0,0,0,0,0,0,0,0,0,0,0,0,1,2,6,13,5,1,0,0,0,0,0,0,0,0,0,0,0,0,0,0,0,0,0,0,0,0,0,0,0,0,0,0,0,0,0],
[1,0,0,0,0,0,0,0,0,0,0,0,0,0,0,0,0,0,0,0,0,0,0,0,0,0,0,2,5,8,2,0,0,0,0,0,0,0,0,0,0,0,0,0,0,3,10,2,0,0,0,0,0,0,0,0,0,0,0,0,0],
[1,0,0,0,0,0,0,0,0,0,0,0,0,0,0,0,0,0,0,0,0,0,0,0,0,0,0,1,2,4,6,3,1,0,0,0,0,0,0,0,0,0,0,0,0,0,0,0,0,0,0,0,0,0,0,0,0,0,0,0,0],
[2,0,0,0,0,0,0,0,0,0,0,0,0,0,0,0,0,0,0,0,0,0,0,0,0,0,1,4,12,22,8,1,0,0,0,0,0,0,0,0,0,0,0,0,0,0,0,0,0,0,0,0,0,0,0,0,0,0,0,0,0],
[1,0,0,0,0,0,0,0,0,0,0,0,0,0,0,0,0,0,0,0,0,0,0,0,0,1,4,8,3,1,0,0,0,0,0,0,0,0,0,0,0,0,0,0,0,0,0,0,0,0,0,0,0,0,0,0,0,0,0,0,0],
[0,0,0,0,0,0,0,0,0,0,0,0,0,0,0,0,0,0,0,0,0,0,0,0,0,0,0,1,1,2,3,6,4,1,0,0,0,0,0,0,0,0,0,0,0,0,0,0,0,0,0,0,0,0,0,0,0,0,1,0,0],
[1,0,0,0,0,0,0,0,0,0,0,0,0,0,0,0,0,0,0,0,0,0,0,0,0,0,0,1,3,6,10,4,1,0,0,0,0,0,0,0,0,0,0,1,3,13,2,0,0,0,0,0,0,0,0,0,0,0,0,0,0],
[1,0,0,0,0,0,0,0,0,0,0,0,0,0,0,0,0,0,0,0,0,0,0,0,3,16,24,6,2,1,0,0,0,0,0,0,0,0,0,0,0,0,0,0,0,0,0,0,0,0,0,0,0,0,0,0,0,0,0,0,0],
[2,4,0,0,0,0,0,0,0,0,0,0,0,0,0,0,0,0,0,0,0,0,0,0,0,0,0,1,2,5,19,4,1,0,0,0,0,0,0,0,0,0,0,0,0,0,0,0,0,0,0,0,0,0,0,0,0,0,0,0,0],
[1,0,0,0,0,0,0,0,0,0,0,0,0,0,0,0,0,0,0,0,0,0,0,0,0,0,1,1,3,6,2,0,0,0,0,0,0,0,0,0,0,0,0,0,0,0,0,0,0,0,0,0,0,0,12,5,1,0,0,0,0],
[1,0,0,0,0,0,0,0,0,0,0,0,0,0,0,0,0,0,0,0,0,0,0,0,0,1,5,14,26,6,1,0,0,0,0,0,0,0,0,0,0,0,0,0,0,0,0,0,0,0,0,0,0,0,0,0,0,0,0,0,0],
[1,0,0,0,0,0,0,0,0,0,0,0,0,0,0,0,0,0,0,0,0,0,0,0,0,0,1,4,10,3,1,0,0,0,0,0,0,0,0,0,0,0,0,0,0,0,0,0,0,0,0,0,0,0,0,0,0,2,8,1,0],
[2,0,0,0,0,0,0,0,0,0,0,0,0,0,0,0,0,0,0,0,0,0,0,0,0,0,1,2,6,15,3,1,0,0,0,0,0,0,0,0,0,0,0,0,0,0,0,0,0,0,0,0,0,0,0,0,0,0,0,0,0],
[1,0,0,0,0,0,0,0,0,0,0,0,0,0,0,0,0,0,0,0,0,0,0,0,0,0,0,1,3,7,4,1,0,0,0,0,0,0,0,0,0,0,0,0,0,0,1,0,0,0,0,0,0,0,0,0,0,0,0,0,0],
[1,0,0,0,0,0,0,0,0,0,0,0,0,0,0,0,0,0,0,0,0,0,0,0,0,1,3,8,12,4,1,0,0,0,0,0,0,0,0,0,0,0,0,0,0,0,0,0,0,0,0,0,0,0,0,0,0,0,0,0,0],
[1,0,0,0,0,0,0,0,0,0,0,0,0,0,0,0,0,0,0,0,0,0,0,0,0,0,1,2,5,10,3,0,0,0,0,0,0,0,0,0,0,0,0,0,0,0,0,0,0,0,0,0,0,0,0,0,0,0,0,0,0],
[2,0,0,0,0,0,0,0,0,0,0,0,0,0,0,0,0,0,0,0,0,0,0,0,0,1,2,6,17,3,1,0,0,0,0,0,0,0,0,0,0,0,0,0,0,0,0,0,0,0,0,0,0,0,0,0,0,0,0,0,0],
[1,0,0,0,0,0,0,0,0,0,0,0,0,0,0,0,0,0,0,0,0,0,0,0,0,0,0,0,1,1,1,2,2,3,8,3,1,0,0,0,0,0,0,0,0,0,0,0,0,0,0,0,0,0,0,0,0,0,0,0,0],
[1,0,0,0,0,0,0,0,0,0,0,0,0,0,0,0,0,0,0,0,0,0,0,0,0,0,1,1,3,6,1,0,0,0,0,0,0,0,0,0,0,0,0,0,0,1,6,1,0,0,0,0,0,0,0,0,0,0,0,0,0],
[1,0,0,0,0,1,0,0,0,0,0,0,0,0,0,0,0,0,0,0,0,0,0,0,0,0,0,0,1,2,2,5,3,1,0,0,0,0,0,0,0,0,0,0,0,7,10,2,0,0,0,0,0,0,0,0,0,0,0,0,0],
[1,0,0,0,0,0,0,0,0,0,0,0,0,0,0,0,0,0,1,0,0,0,0,0,0,0,1,3,7,2,0,0,0,0,0,0,0,0,0,0,0,0,0,0,0,0,0,0,0,0,0,0,0,0,0,0,0,7,5,1,0],
[1,0,0,0,0,0,0,0,0,0,0,0,0,0,0,0,0,0,0,0,0,0,0,0,2,12,3,1,1,2,1,0,0,0,0,0,0,0,0,0,0,0,0,0,0,0,0,0,0,0,0,0,0,0,0,0,0,0,0,0,0],
[1,0,0,0,0,0,0,0,0,0,0,0,0,0,0,0,0,0,0,0,0,0,1,0,0,0,0,1,2,4,2,0,0,0,0,0,0,0,0,0,0,0,0,0,0,0,0,0,0,0,0,0,5,1,0,0,0,0,0,0,0],
[0,0,0,0,0,0,0,0,0,0,0,0,0,0,0,0,0,0,0,0,0,0,0,0,0,0,0,1,4,8,11,3,1,0,0,0,0,0,0,0,0,0,0,0,0,0,1,5,1,0,0,0,0,0,0,0,0,0,0,0,0],
[1,0,0,0,0,0,0,0,0,0,0,0,0,0,0,0,0,0,0,0,0,0,0,0,0,0,0,0,1,1,1,2,3,6,7,5,2,1,0,0,0,0,0,0,0,0,0,0,0,0,0,0,0,0,0,0,0,0,0,0,0],
[1,0,0,0,0,0,0,0,0,0,0,0,0,0,0,0,0,0,0,0,0,0,0,0,0,0,0,1,1,3,16,4,1,0,0,0,0,0,0,0,0,0,0,0,0,0,0,0,0,0,0,0,0,0,0,0,0,0,0,0,0],
[2,0,0,0,0,0,0,0,0,0,0,0,0,0,0,0,0,0,0,0,0,0,0,0,0,0,0,2,5,3,1,0,0,0,0,0,0,0,0,0,0,0,0,0,0,0,0,0,0,0,0,0,0,0,0,6,1,0,0,0,0],
[1,0,0,0,0,0,0,0,0,0,0,0,0,0,0,0,0,0,0,0,0,0,4,0,0,0,0,1,2,5,6,2,2,6,7,2,0,0,0,0,0,0,0,0,0,0,0,0,0,0,0,0,0,0,0,0,0,0,0,0,0],
[1,0,0,0,0,0,0,0,0,0,0,0,0,0,0,0,0,0,0,0,0,0,0,0,0,0,0,1,2,4,26,5,1,0,0,0,0,0,0,0,0,0,0,0,0,0,0,0,0,0,0,0,0,0,0,0,0,0,1,6,1],
[1,0,0,0,0,0,0,0,0,0,0,0,0,0,0,0,0,0,0,0,0,0,0,0,0,0,1,3,9,4,1,0,0,0,0,0,0,0,0,0,0,0,0,0,0,0,0,1,6,1,0,0,0,0,0,0,0,0,0,0,0],
[1,0,0,0,1,0,0,0,0,0,0,0,0,0,0,0,0,0,0,0,0,0,0,0,0,0,0,0,1,1,1,1,3,5,2,0,0,0,0,0,0,0,0,0,0,0,0,0,0,0,0,0,0,0,0,0,0,0,0,0,0],
[1,0,0,0,0,0,0,0,0,0,0,0,0,0,0,0,0,0,0,0,0,0,0,0,0,1,4,10,20,5,1,0,0,0,0,0,0,0,0,0,0,0,0,0,0,0,0,0,0,0,0,0,0,0,0,0,0,0,0,0,0],
[1,0,0,0,0,0,0,0,0,0,0,0,0,0,0,0,0,0,0,0,0,0,0,0,0,0,0,1,2,4,1,0,0,0,0,0,0,0,0,0,0,0,0,0,0,0,0,0,0,0,0,0,0,0,0,0,4,1,0,0,0],
[1,0,0,0,0,0,0,0,0,0,0,0,0,0,0,0,0,0,0,0,0,0,0,0,0,0,0,1,2,3,5,3,1,0,0,0,0,0,0,0,0,0,0,0,0,0,0,0,0,0,0,0,0,0,0,0,0,0,0,1,3]
];

// ---------- CHART ----------
const FONT = '"DejaVu Sans Mono","Liberation Mono",monospace';
const svg = d3.select("#chart");
const t0 = Date.UTC(2026, 3, 4, 12);
const HOUR = 3600 * 1000;
const timeAt = i => new Date(t0 + i * 6 * HOUR);
const x = d3.scaleUtc().domain([new Date(t0), new Date(t0 + 360 * HOUR)]).range([50, 690]);
const yT = d3.scaleLinear().domain([-45, 30]).range([547, 22]);
const yP = d3.scaleLinear().domain([0, 75]).range([547, 22]);
const dayDates = dayLabels.map((_, k) => new Date(Date.UTC(2026, 3, 5 + k)));

svg.append("defs").append("clipPath").attr("id", "clip")
  .append("rect").attr("x", 50).attr("y", 0).attr("width", 640).attr("height", 600);

// vertical day grid + rotated date labels
const gx = svg.append("g").attr("transform", "translate(0,600)")
  .call(d3.axisBottom(x).tickValues(dayDates).tickSize(-600).tickFormat((d, k) => dayLabels[k]));
gx.select(".domain").remove();
gx.attr("font-family", FONT).attr("font-size", 10);
gx.selectAll(".tick line").attr("stroke", "#c0c0c0").attr("stroke-width", 1);
gx.selectAll(".tick text").attr("transform", "rotate(-90)").attr("x", -2).attr("y", 9.5)
  .attr("dy", null).attr("text-anchor", "end").attr("fill", "#000");

// horizontal grid + left labels
const gl = svg.append("g").attr("transform", "translate(50,0)")
  .call(d3.axisLeft(yT).tickValues(tempTicks).tickSize(-640).tickFormat(d => String(d)));
gl.select(".domain").remove();
gl.attr("font-family", FONT).attr("font-size", 10);
gl.selectAll(".tick line").attr("stroke", "#c4c4c4").attr("stroke-width", 2);
gl.selectAll(".tick text").attr("x", -31).attr("text-anchor", "start").attr("fill", "#000");

// right precipitation labels
const gr = svg.append("g").attr("transform", "translate(690,0)")
  .call(d3.axisRight(yP).tickValues(precipTicks).tickSize(0).tickPadding(19).tickFormat(d => String(d)));
gr.select(".domain").remove();
gr.attr("font-family", FONT).attr("font-size", 10);
gr.selectAll(".tick text").attr("fill", "#000");

// zero line
svg.append("line").attr("x1", 50).attr("x2", 690).attr("y1", yT(0)).attr("y2", yT(0))
  .attr("stroke", "#979797").attr("stroke-width", 2.5);

const plot = svg.append("g").attr("clip-path", "url(#clip)");
const lineGen = ys => d3.line().x((d, i) => x(timeAt(i))).y(d => ys(d));
const crosses = (vals, ys) => vals.map((v, i) => {
  const px = x(timeAt(i)), py = ys(v);
  return `M${(px - 1.5).toFixed(1)},${py.toFixed(1)}h3M${px.toFixed(1)},${(py - 1.5).toFixed(1)}v3`;
}).join("");

function member(vals, ys, color) {
  plot.append("path").attr("d", lineGen(ys)(vals)).attr("fill", "none")
    .attr("stroke", color).attr("stroke-width", 1);
  plot.append("path").attr("d", crosses(vals, ys)).attr("fill", "none")
    .attr("stroke", color).attr("stroke-width", 1);
}
for (let m = 0; m < 50; m++) {
  member(pert850[m], yT, memberColors[m]);
  member(pert500[m], yT, memberColors[m]);
  member(pertPrecip[m], yP, memberColors[m]);
}
function thick(vals, ys, color, w) {
  plot.append("path").attr("d", lineGen(ys)(vals)).attr("fill", "none")
    .attr("stroke", color).attr("stroke-width", w).attr("stroke-linejoin", "round");
}
thick(ctrl850, yT, "#000", 3);
thick(ctrl500, yT, "#000", 3);
thick(ctrlPrecip, yP, "#000", 3);
thick(mean850, yT, "#ff0000", 4.5);
thick(mean500, yT, "#ff0000", 4.5);
thick(meanPrecip, yP, "#ff0000", 4.5);

// frame
svg.append("line").attr("x1", 50.5).attr("x2", 50.5).attr("y1", 0).attr("y2", 601).attr("stroke", "#000").attr("stroke-width", 1.5);
svg.append("line").attr("x1", 690).attr("x2", 690).attr("y1", 0).attr("y2", 601).attr("stroke", "#000").attr("stroke-width", 2);
svg.append("line").attr("x1", 50).attr("x2", 691).attr("y1", 600.5).attr("y2", 600.5).attr("stroke", "#000").attr("stroke-width", 1.5);

const txt = (s, px, py, opts = {}) => svg.append("text").attr("x", px).attr("y", py)
  .attr("font-family", FONT).attr("font-size", opts.size || 10)
  .attr("font-weight", opts.bold ? "bold" : "normal")
  .attr("text-anchor", opts.anchor || "start").attr("fill", "#000").text(s);

txt("Temp. 850hPa", 60, 158);
txt("Temp. 500hPa", 60, 368);
txt("Précipitations", 60, 513);
txt("(°C)", 20, 610);
txt("(mm)", 710, 610);

// legend
svg.append("rect").attr("x", 35).attr("y", 637.5).attr("width", 30).attr("height", 4).attr("fill", "#ff0000");
txt("Moyenne des scénarios", 75, 643);
svg.append("rect").attr("x", 225).attr("y", 637.5).attr("width", 31).attr("height", 4).attr("fill", "#000");
txt("Contrôle/Det", 265, 643);
txt("50 Perts.", 369, 656);

const sw = svg.append("g");
memberColors.forEach((c, m) => {
  const col = m % 25, row = Math.floor(m / 25);
  const sx = 430 + col * 10.93;
  sw.append("rect").attr("x", sx).attr("y", 645 + row * 6).attr("width", 9.7).attr("height", 6).attr("fill", c);
  sw.append("text").attr("x", sx + 4.9).attr("y", row === 0 ? 643 : 665.5)
    .attr("text-anchor", "middle").attr("font-family", FONT).attr("font-size", 7)
    .attr("font-weight", "bold").attr("fill", "#000").text(memberLabels[m]);
});

// info box
svg.append("rect").attr("x", 21).attr("y", 668).attr("width", 419).attr("height", 40)
  .attr("fill", "none").attr("stroke", "#000").attr("stroke-width", 2);
txt("Diagramme ensembles ECMWF/CEP 0.25° sur 360h : 40.6N 22.9E", 30, 681, {bold: true, size: 11.4});
txt("Températures 850hPa et 500hPa (°C) , précipitations (mm)", 30, 694);
txt("Ensemble ECMWF/CEP du 04/04/2026 - 12Z", 450, 680);
txt("Copyright 2026 Meteociel.fr - ECMWF", 450, 697, {bold: true, size: 11.6});
</script>
</body></html>
